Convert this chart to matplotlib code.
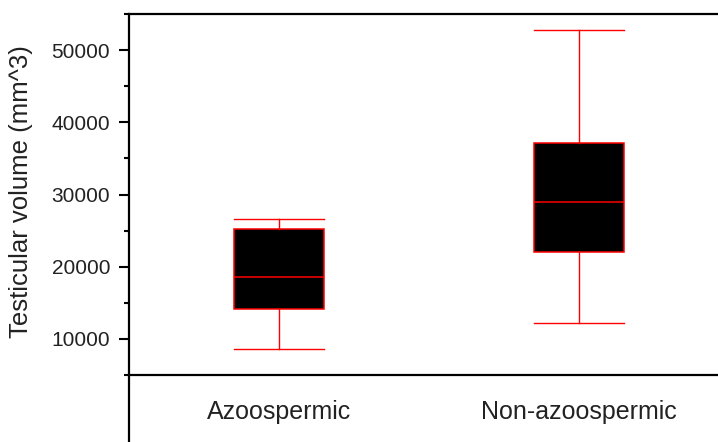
import matplotlib.pyplot as plt
from matplotlib.lines import Line2D

# values
groups = ["Azoospermic", "Non-azoospermic"]
whisker_low = [8610, 12220]
q1 = [14210, 21990]
median = [18610, 28930]
q3 = [25220, 37170]
whisker_high = [26670, 52820]

major_ticks = [10000, 20000, 30000, 40000, 50000]
minor_ticks = [5000, 15000, 25000, 35000, 45000, 55000]

W, H = 718, 442
fig = plt.figure(figsize=(W / 100, H / 100), dpi=100)
fig.patch.set_facecolor("white")

# axes box in pixels: left 129, top 14, bottom line at 375, runs off the right edge
left, top, bottom, right = 129, 14, 375, 718
ax = fig.add_axes([left / W, (H - bottom) / H, (right - left) / W, (bottom - top) / H])

stats = []
for i, name in enumerate(groups):
    stats.append({
        "label": name,
        "whislo": whisker_low[i],
        "q1": q1[i],
        "med": median[i],
        "q3": q3[i],
        "whishi": whisker_high[i],
        "fliers": [],
    })

red = "#ff0000"
ax.bxp(
    stats,
    positions=[1, 2],
    widths=0.3,
    capwidths=0.3,
    patch_artist=True,
    showfliers=False,
    boxprops=dict(facecolor="black", edgecolor=red, linewidth=1.1),
    medianprops=dict(color=red, linewidth=1.1),
    whiskerprops=dict(color=red, linewidth=1.0),
    capprops=dict(color=red, linewidth=1.0),
)

ax.set_xlim(0.5, 0.5 + (right - left) / 300)
ax.set_ylim(5000, 55000)

ax.spines["right"].set_visible(False)
for s in ("left", "top", "bottom"):
    ax.spines[s].set_linewidth(1.6)
    ax.spines[s].set_color("black")

ax.set_yticks(major_ticks)
ax.set_yticks(minor_ticks, minor=True)
ax.tick_params(axis="y", which="major", direction="out", length=7.5, width=1.5, pad=6,
               labelsize=15)
ax.tick_params(axis="y", which="minor", direction="out", length=3.8, width=1.5)
ax.tick_params(axis="x", length=0, pad=18, labelsize=18)
ax.set_xticks([1, 2])
ax.set_xticklabels(groups)

for lab in ax.get_yticklabels() + ax.get_xticklabels():
    lab.set_fontfamily("Liberation Sans")
    lab.set_color("#222222")

ax.set_ylabel("Testicular volume (mm^3)", fontsize=18.5, family="Liberation Sans",
              color="#222222")
# label's right edge sits about 33 px from the left of the picture
ax.yaxis.set_label_coords(-(left - 33) / (right - left), (bottom - 192) / (bottom - top))

# left axis line continues below the x axis to the bottom of the picture
fig.add_artist(Line2D([left / W, left / W], [0, (H - bottom) / H],
                      color="black", linewidth=1.6, transform=fig.transFigure))

fig.savefig("out.png", dpi=100)
